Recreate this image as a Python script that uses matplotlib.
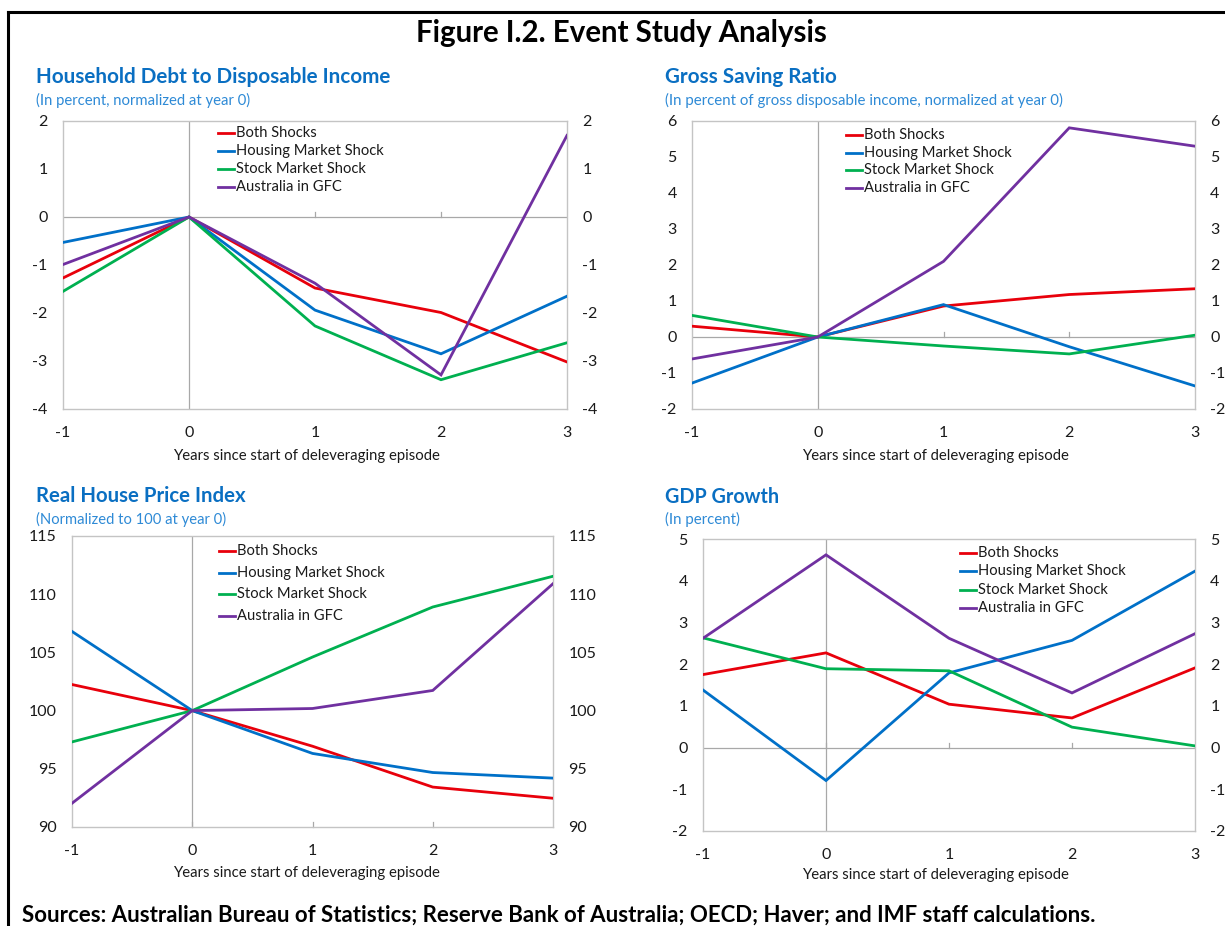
import matplotlib
matplotlib.use("Agg")
import matplotlib.pyplot as plt
from matplotlib.lines import Line2D
import matplotlib.transforms as mtransforms

# ---------------- data ----------------
years = [-1, 0, 1, 2, 3]
series_names = ["Both Shocks", "Housing Market Shock", "Stock Market Shock", "Australia in GFC"]

debt_both = [-1.27, 0.0, -1.48, -1.99, -3.02]
debt_housing = [-0.53, 0.0, -1.94, -2.85, -1.65]
debt_stock = [-1.55, 0.0, -2.27, -3.39, -2.62]
debt_aus = [-0.99, 0.0, -1.38, -3.29, 1.70]

saving_both = [0.30, 0.0, 0.86, 1.18, 1.34]
saving_housing = [-1.28, 0.0, 0.90, -0.27, -1.36]
saving_stock = [0.60, 0.0, -0.25, -0.47, 0.05]
saving_aus = [-0.61, 0.0, 2.10, 5.81, 5.30]

house_both = [102.24, 100.0, 96.94, 93.43, 92.47]
house_housing = [106.8, 100.0, 96.32, 94.68, 94.2]
house_stock = [97.31, 100.0, 104.6, 108.9, 111.54]
house_aus = [92.04, 100.0, 100.18, 101.73, 110.9]

gdp_both = [1.75, 2.27, 1.04, 0.71, 1.91]
gdp_housing = [1.38, -0.79, 1.79, 2.57, 4.23]
gdp_stock = [2.63, 1.89, 1.84, 0.49, 0.04]
gdp_aus = [2.62, 4.62, 2.62, 1.31, 2.73]

debt_ticks = [-4, -3, -2, -1, 0, 1, 2]
saving_ticks = [-2, -1, 0, 1, 2, 3, 4, 5, 6]
house_ticks = [90, 95, 100, 105, 110, 115]
gdp_ticks = [-2, -1, 0, 1, 2, 3, 4, 5]

main_title = "Figure I.2. Event Study Analysis"
titles = ["Household Debt to Disposable Income", "Gross Saving Ratio",
          "Real House Price Index", "GDP Growth"]
subtitles = ["(In percent, normalized at year 0)",
             "(In percent of gross disposable income, normalized at year 0)",
             "(Normalized to 100 at year 0)", "(In percent)"]
xlabel_text = "Years since start of deleveraging episode"
footer = "Sources: Australian Bureau of Statistics; Reserve Bank of Australia; OECD; Haver; and IMF staff calculations."

# ---------------- style ----------------
W, H = 1225, 926
FONT = "Lato"
colors = ["#e8000b", "#0070c8", "#00b050", "#7030a0"]
title_blue = "#0a6fc2"
sub_blue = "#2e8ad6"
frame_gray = "#c4c4c4"
zero_gray = "#a8a8a8"
text_col = "#1a1a1a"

plt.rcParams["font.family"] = [FONT, "DejaVu Sans"]

fig = plt.figure(figsize=(W / 100, H / 100), dpi=100)
renderer = fig.canvas.get_renderer()


def fx(px):
    return px / W


def fy(py):
    return 1 - py / H


def fit(txt, target_px):
    bb = txt.get_window_extent(renderer)
    txt.set_fontsize(txt.get_fontsize() * target_px / bb.width)
    return txt.get_fontsize()


# figure border (top + left)
fig.add_artist(Line2D([fx(8), fx(8)], [fy(12), fy(926)], color="black", lw=2.2))
fig.add_artist(Line2D([fx(8), fx(1225)], [fy(12), fy(12)], color="black", lw=2.2))

t = fig.text(fx(621), fy(33), main_title, ha="center", va="center",
             fontweight="bold", fontsize=18, color="black")
fit(t, 413)

f = fig.text(fx(22), fy(915), footer, ha="left", va="center",
             fontweight="bold", fontsize=13, color="black")
fit(f, 1071)

panels = [
    dict(box=(63, 121, 567, 409), data=[debt_both, debt_housing, debt_stock, debt_aus],
         ticks=debt_ticks, zero=0, title_xy=(36, 77), title_w=357, sub_xy=(36, 100), sub_w=216,
         xl_xy=(306, 456), leg=(218, 133, 18)),
    dict(box=(692, 121, 1195, 409), data=[saving_both, saving_housing, saving_stock, saving_aus],
         ticks=saving_ticks, zero=0, title_xy=(665, 77), title_w=173, sub_xy=(665, 100), sub_w=399,
         xl_xy=(935, 456), leg=(846, 135, 17.7)),
    dict(box=(72, 536, 553, 827), data=[house_both, house_housing, house_stock, house_aus],
         ticks=house_ticks, zero=90, title_xy=(36, 496), title_w=211, sub_xy=(36, 519), sub_w=191,
         xl_xy=(306, 873), leg=(219, 551, 21.7)),
    dict(box=(703, 539, 1195, 831), data=[gdp_both, gdp_housing, gdp_stock, gdp_aus],
         ticks=gdp_ticks, zero=0, title_xy=(665, 497), title_w=115, sub_xy=(665, 519), sub_w=75,
         xl_xy=(935, 875), leg=(960, 553, 18.3)),
]

probe = fig.text(0, 0, xlabel_text, fontsize=10)
base_fs = fit(probe, 268)
probe.remove()
probe = fig.text(0, 0, series_names[1], fontsize=10)
leg_fs = fit(probe, 148)
probe.remove()
tick_fs = leg_fs * 1.08

for i, p in enumerate(panels):
    l, tp, r, b = p["box"]
    ax = fig.add_axes([fx(l), fy(b), fx(r) - fx(l), fy(tp) - fy(b)])
    ticks = p["ticks"]
    ax.set_xlim(-1, 3)
    ax.set_ylim(ticks[0], ticks[-1])
    ax.set_xticks(years)
    ax.set_yticks(ticks)
    ax.set_xticklabels([str(v) for v in years])
    ax.set_yticklabels([str(v) for v in ticks])
    for s in ax.spines.values():
        s.set_color(frame_gray)
        s.set_linewidth(1.0)
    ax.tick_params(axis="both", length=0, labelsize=tick_fs, colors=text_col)
    ax.tick_params(axis="y", left=False, right=False, labelleft=True, labelright=True, pad=11)
    ax.tick_params(axis="x", pad=12)
    ax.patch.set_alpha(0)

    ax.axvline(0, color=zero_gray, lw=0.9, zorder=1)
    if p["zero"] != ticks[0]:
        ax.axhline(p["zero"], color=zero_gray, lw=0.9, zorder=1)
    zfrac = (p["zero"] - ticks[0]) / (ticks[-1] - ticks[0])
    trans = mtransforms.blended_transform_factory(ax.transData, ax.transAxes)
    tick_len = 5 / (b - tp)
    for xv in years[1:-1]:
        ax.plot([xv, xv], [zfrac, zfrac + tick_len], transform=trans,
                color=zero_gray, lw=0.9, zorder=1, clip_on=False)

    for vals, c in zip(p["data"], colors):
        ax.plot(years, vals, color=c, lw=2.0, zorder=3, solid_joinstyle="miter")

    lx, ly, dy = p["leg"]
    for k, (name, c) in enumerate(zip(series_names, colors)):
        yy = ly + k * dy
        ax.add_line(Line2D([fx(lx), fx(lx + 16)], [fy(yy), fy(yy)], transform=fig.transFigure,
                           color=c, lw=2.0, clip_on=False))
        fig.text(fx(lx + 18), fy(yy), name, ha="left", va="center",
                 fontsize=leg_fs, color=text_col)

    tt = fig.text(fx(p["title_xy"][0]), fy(p["title_xy"][1]), titles[i], ha="left", va="center",
                  fontweight="bold", fontsize=14, color=title_blue)
    fit(tt, p["title_w"])
    st = fig.text(fx(p["sub_xy"][0]), fy(p["sub_xy"][1]), subtitles[i], ha="left", va="center",
                  fontsize=9.5, color=sub_blue)
    fit(st, p["sub_w"])
    fig.text(fx(p["xl_xy"][0]), fy(p["xl_xy"][1]), xlabel_text, ha="center", va="center",
             fontsize=base_fs, color=text_col)

fig.savefig("out.png", dpi=100)
